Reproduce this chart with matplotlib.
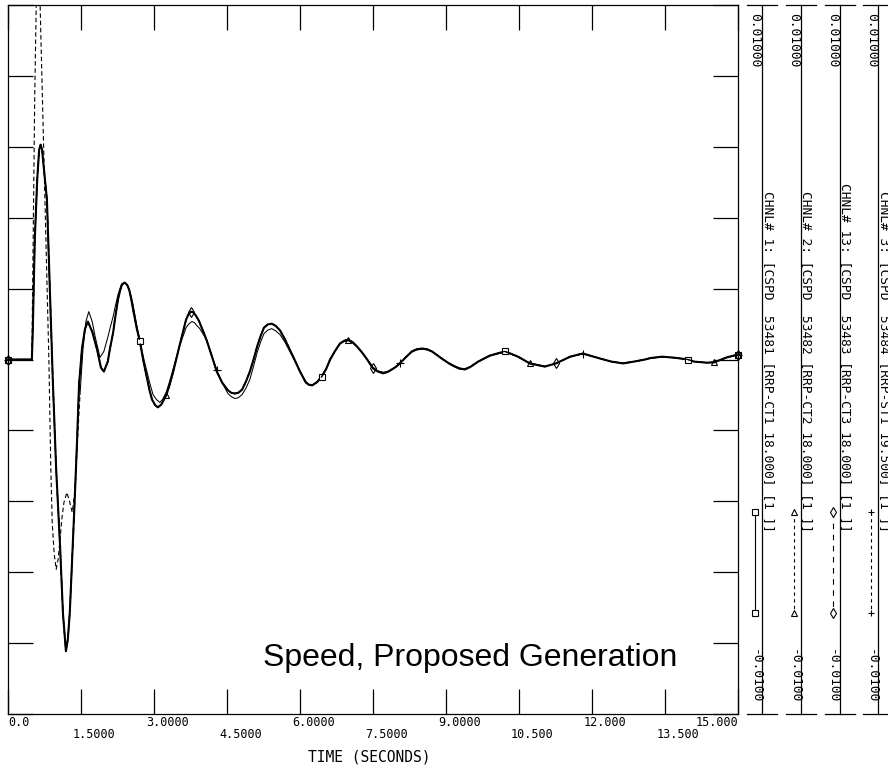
import matplotlib
matplotlib.use("Agg")
import matplotlib.pyplot as plt
from matplotlib import transforms

# ---- data ----
# combustion turbines CT1/CT2/CT3 trace on top of each other
ct_time = [0.00, 0.49, 0.51, 0.55, 0.60, 0.64, 0.67, 0.70, 0.72, 0.80, 0.86, 0.92,
           0.99, 1.07, 1.13, 1.19, 1.23, 1.27, 1.36, 1.42, 1.46, 1.52, 1.58, 1.64,
           1.73, 1.83, 1.91, 1.97, 2.05, 2.10, 2.16, 2.21, 2.26, 2.30, 2.34, 2.40,
           2.45, 2.49, 2.53, 2.57, 2.65, 2.71, 2.78, 2.86, 2.91, 2.96, 3.02, 3.08,
           3.15, 3.25, 3.32, 3.39, 3.46, 3.53, 3.60, 3.66, 3.71, 3.76, 3.81, 3.86,
           3.92, 3.97, 4.03, 4.09, 4.19, 4.29, 4.40, 4.52, 4.59, 4.66, 4.73, 4.81,
           4.89, 4.97, 5.05, 5.12, 5.19, 5.26, 5.34, 5.42, 5.50, 5.59, 5.69, 5.79,
           5.90, 6.00, 6.12, 6.18, 6.25, 6.35, 6.45, 6.54, 6.62, 6.72, 6.82, 6.91,
           6.99, 7.08, 7.17, 7.28, 7.38, 7.50, 7.60, 7.71, 7.80, 7.89, 7.97, 8.05,
           8.18, 8.30, 8.40, 8.51, 8.61, 8.71, 8.82, 8.94, 9.06, 9.18, 9.28, 9.39,
           9.50, 9.66, 9.90, 10.21, 10.48, 10.72, 11.03, 11.26, 11.55, 11.81, 12.16,
           12.40, 12.64, 12.90, 13.09, 13.20, 13.44, 13.70, 13.97, 14.10, 14.36,
           14.51, 14.77, 15.00]
ct_speed = [0.0, 0.0, 0.00085, 0.00338, 0.00507, 0.00592, 0.00606, 0.00592, 0.00563,
            0.00451, 0.00197, -0.00056, -0.00310, -0.00527, -0.00718, -0.00823,
            -0.00789, -0.00713, -0.00431, -0.00225, -0.00070, 0.00030, 0.00085,
            0.00107, 0.00079, 0.00028, -0.00023, -0.00034, -0.00006, 0.00034,
            0.00076, 0.00125, 0.00169, 0.00193, 0.00211, 0.00217, 0.00210, 0.00197,
            0.00172, 0.00141, 0.00085, 0.00051, -0.00003, -0.00056, -0.00088,
            -0.00113, -0.00128, -0.00135, -0.00127, -0.00101, -0.00072, -0.00037,
            0.00003, 0.00042, 0.00080, 0.00113, 0.00128, 0.00135, 0.00133, 0.00124,
            0.00110, 0.00093, 0.00073, 0.00051, 0.00008, -0.00034, -0.00065,
            -0.00087, -0.00094, -0.00096, -0.00094, -0.00085, -0.00062, -0.00034,
            0.00002, 0.00037, 0.00066, 0.00090, 0.00099, 0.00101, 0.00095, 0.00082,
            0.00057, 0.00028, -0.00004, -0.00034, -0.00065, -0.00071, -0.00073,
            -0.00064, -0.00048, -0.00026, 0.0, 0.00024, 0.00045, 0.00053, 0.00056,
            0.00049, 0.00037, 0.00019, 0.0, -0.00025, -0.00034, -0.00039, -0.00035,
            -0.00028, -0.00021, -0.00011, 0.00007, 0.00023, 0.00029, 0.00031,
            0.00029, 0.00023, 0.00012, 0.0, -0.00011, -0.00020, -0.00026, -0.00028,
            -0.00021, -0.00006, 0.00011, 0.00023, 0.00008, -0.00011, -0.00020,
            -0.00011, 0.00008, 0.00017, 0.00003, -0.00006, -0.00011, -0.00005, 0.0,
            0.00004, 0.00008, 0.00005, 0.0, -0.00006, -0.00009, -0.00008, 0.00006,
            0.00014]

# steam turbine ST1
st_time = [0.00, 0.49, 0.51, 0.53, 0.55, 0.58, 0.62, 0.66, 0.68, 0.72, 0.76, 0.80,
           0.84, 0.88, 0.91, 0.95, 0.99, 1.03, 1.07, 1.11, 1.15, 1.21, 1.27, 1.32,
           1.38, 1.44, 1.48, 1.54, 1.60, 1.66, 1.73, 1.79, 1.89, 1.97, 2.05, 2.10,
           2.16, 2.21, 2.26, 2.30, 2.34, 2.40, 2.45, 2.49, 2.53, 2.57, 2.65, 2.70,
           2.75, 2.80, 2.86, 2.92, 2.98, 3.05, 3.12, 3.18, 3.25, 3.32, 3.39, 3.46,
           3.53, 3.60, 3.66, 3.72, 3.78, 3.83, 3.88, 3.94, 3.99, 4.04, 4.09, 4.19,
           4.29, 4.40, 4.52, 4.59, 4.66, 4.73, 4.81, 4.89, 4.97, 5.05, 5.12, 5.19,
           5.26, 5.34, 5.42, 5.50, 5.59, 5.69, 5.79, 5.90, 6.00, 6.12, 6.18, 6.25,
           6.35, 6.45, 6.54, 6.62, 6.72, 6.82, 6.91, 6.99, 7.08, 7.17, 7.28, 7.38,
           7.50, 7.60, 7.71, 7.80, 7.89, 7.97, 8.05, 8.18, 8.30, 8.40, 8.51, 8.61,
           8.71, 8.82, 8.94, 9.06, 9.18, 9.28, 9.39, 9.50, 9.66, 9.90, 10.21, 10.48,
           10.72, 11.03, 11.26, 11.55, 11.81, 12.16, 12.40, 12.64, 12.90, 13.09,
           13.20, 13.44, 13.70, 13.97, 14.10, 14.36, 14.51, 14.77, 15.00]
st_speed = [0.0, 0.0, 0.00251, 0.00501, 0.00752, 0.01000, 0.01240, 0.01000, 0.00887,
            0.00668, 0.00445, 0.00220, 0.0, -0.00310, -0.00465, -0.00549, -0.00592,
            -0.00563, -0.00507, -0.00445, -0.00403, -0.00375, -0.00403, -0.00431,
            -0.00366, -0.00197, -0.00099, 0.00028, 0.00107, 0.00135, 0.00107,
            0.00065, 0.00006, 0.00023, 0.00062, 0.00090, 0.00121, 0.00153, 0.00183,
            0.00200, 0.00214, 0.00217, 0.00210, 0.00197, 0.00178, 0.00155, 0.00093,
            0.00061, 0.00028, -0.00004, -0.00037, -0.00070, -0.00099, -0.00113,
            -0.00121, -0.00112, -0.00093, -0.00062, -0.00028, 0.00006, 0.00039,
            0.00067, 0.00090, 0.00101, 0.00107, 0.00104, 0.00096, 0.00087, 0.00076,
            0.00065, 0.00051, 0.00011, -0.00031, -0.00066, -0.00096, -0.00105,
            -0.00110, -0.00108, -0.00099, -0.00081, -0.00056, -0.00017, 0.00020,
            0.00049, 0.00073, 0.00083, 0.00087, 0.00081, 0.00070, 0.00049, 0.00023,
            -0.00006, -0.00034, -0.00062, -0.00070, -0.00073, -0.00062, -0.00045,
            -0.00024, 0.00002, 0.00024, 0.00044, 0.00051, 0.00053, 0.00047, 0.00036,
            0.00019, 0.00001, -0.00022, -0.00032, -0.00036, -0.00034, -0.00027,
            -0.00020, -0.00011, 0.00007, 0.00021, 0.00027, 0.00029, 0.00027, 0.00022,
            0.00012, 0.00001, -0.00010, -0.00018, -0.00024, -0.00026, -0.00020,
            -0.00006, 0.00010, 0.00021, 0.00008, -0.00010, -0.00019, -0.00011,
            0.00007, 0.00016, 0.00003, -0.00006, -0.00010, -0.00005, 0.0, 0.00004,
            0.00007, 0.00005, 0.0, -0.00006, -0.00009, -0.00007, 0.00005, 0.00013]

# times where PSS/E put the channel symbols
ch1_mark_times = [0.00, 2.71, 6.45, 10.21, 13.97, 15.00]
ch2_mark_times = [0.00, 3.25, 6.99, 10.72, 14.51, 15.00]
ch13_mark_times = [0.00, 3.76, 7.50, 11.26, 15.00]
ch3_mark_times = [0.00, 4.29, 8.05, 11.81, 15.00]
st_dash_end = 1.48

channel_labels = [
    "CHNL# 1: [CSPD  53481 [RRP-CT1 18.000] [1 ]]",
    "CHNL# 2: [CSPD  53482 [RRP-CT2 18.000] [1 ]]",
    "CHNL# 13: [CSPD  53483 [RRP-CT3 18.000] [1 ]]",
    "CHNL# 3: [CSPD  53484 [RRP-ST1 19.500] [1 ]]",
]
scale_max_label = "0.01000"
scale_min_label = "-0.0100"

major_ticks = [0.0, 3.0, 6.0, 9.0, 12.0, 15.0]
major_labels = ["0.0", "3.0000", "6.0000", "9.0000", "12.000", "15.000"]
minor_ticks = [1.5, 4.5, 7.5, 10.5, 13.5]
minor_labels = ["1.5000", "4.5000", "7.5000", "10.500", "13.500"]
y_ticks = [-0.01, -0.008, -0.006, -0.004, -0.002, 0.0, 0.002, 0.004, 0.006, 0.008, 0.01]

MONO = "DejaVu Sans Mono"
W, H = 888, 770

fig = plt.figure(figsize=(W / 100, H / 100), dpi=100)
ax = fig.add_axes([8 / W, 56 / H, 730 / W, 709 / H])
ax.set_xlim(0, 15)
ax.set_ylim(-0.01, 0.01)


def idx(times, marks):
    return [times.index(t) for t in marks]


# ---- traces ----
ax.plot(ct_time, ct_speed, color="black", lw=1.5, marker="s", ms=5, mfc="white",
        mew=0.8, markevery=idx(ct_time, ch1_mark_times), clip_on=False, zorder=3)
ax.plot(ct_time, ct_speed, color="black", lw=0.9, ls=(0, (4, 3)), marker="^", ms=5,
        mfc="none", mew=0.8, markevery=idx(ct_time, ch2_mark_times), clip_on=False, zorder=3)
ax.plot(ct_time, ct_speed, color="black", lw=0.9, ls=(0, (6, 4)), marker="d", ms=5,
        mfc="none", mew=0.8, markevery=idx(ct_time, ch13_mark_times), clip_on=False, zorder=3)

k = st_time.index(st_dash_end)
ax.plot(st_time[:k + 1], st_speed[:k + 1], color="black", lw=0.8, ls=(0, (4, 2.5)), zorder=2)
ax.plot(st_time[k:], st_speed[k:], color="black", lw=0.75, zorder=2)
ax.plot(st_time, st_speed, ls="none", color="black", marker="+", ms=6, mew=0.8,
        markevery=idx(st_time, ch3_mark_times), clip_on=False, zorder=3)

# ---- axes frame / ticks ----
for sp in ax.spines.values():
    sp.set_linewidth(0.9)
ax.set_xticks(sorted(major_ticks + minor_ticks))
ax.set_yticks(y_ticks)
ax.tick_params(direction="in", length=18, width=0.9, top=True, right=True,
               labelbottom=False, labelleft=False)

xt = ax.get_xaxis_transform()
for i, (t, lab) in enumerate(zip(major_ticks, major_labels)):
    if i == 0:
        ha, dx = "left", 0
    elif i == len(major_ticks) - 1:
        ha, dx = "right", 0
    else:
        ha, dx = "left", -8
    tr = transforms.offset_copy(xt, fig=fig, x=dx, y=-8, units="dots")
    ax.text(t, 0, lab, transform=tr, ha=ha, va="center", family=MONO, fontsize=8.5,
            clip_on=False)
for t, lab in zip(minor_ticks, minor_labels):
    tr = transforms.offset_copy(xt, fig=fig, x=-8, y=-21, units="dots")
    ax.text(t, 0, lab, transform=tr, ha="left", va="center", family=MONO, fontsize=8.5,
            clip_on=False)

fig.text(369 / W, 1 - 757 / H, "TIME (SECONDS)", ha="center", va="center",
         family=MONO, fontsize=10.5)

ax.text(0.633, 0.079, "Speed, Proposed Generation", transform=ax.transAxes,
        ha="center", va="center", family="Liberation Sans", fontsize=23)

# ---- channel strips on the right (pixel coordinates) ----
side = fig.add_axes([740 / W, 0, 148 / W, 1])
side.set_xlim(740, 888)
side.set_ylim(H, 0)
side.axis("off")

strip_styles = [("-", "s"), ((0, (3, 3)), "^"), ((0, (5, 5)), "d"), ((0, (3, 3)), "+")]
for i, lab in enumerate(channel_labels):
    lx = 762 + 38.8 * i
    side.plot([lx, lx], [5, 714], color="black", lw=0.9)
    side.plot([lx - 15, lx + 15], [5, 5], color="black", lw=0.9)
    side.plot([lx - 15, lx + 15], [714, 714], color="black", lw=0.9)
    side.text(lx - 7, 13, scale_max_label, rotation=-90, ha="center", va="top",
              family=MONO, fontsize=9.3)
    side.text(lx - 7, 703, scale_min_label, rotation=-90, ha="center", va="bottom",
              family=MONO, fontsize=9.3)
    side.text(lx + 6, 532, lab, rotation=-90, ha="center", va="bottom",
              family=MONO, fontsize=9.3)
    ls, mk = strip_styles[i]
    side.plot([lx - 7, lx - 7], [512, 613], color="black", lw=0.8, ls=ls,
              marker=mk, ms=5, mfc="white", mew=0.8)

fig.savefig("out.png", dpi=100, facecolor="white")
